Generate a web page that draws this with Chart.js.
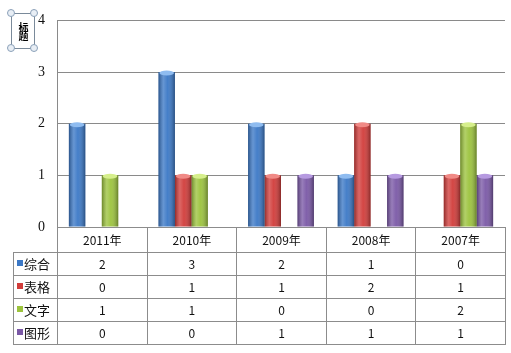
<!DOCTYPE html>
<html>
<head>
<meta charset="utf-8">
<script src="https://cdn.jsdelivr.net/npm/chart.js@4.4.1/dist/chart.umd.min.js"></script>
<style>
  body { margin: 0; background: #fff; }
  #wrap { position: relative; width: 511px; height: 353px; }
  #c { position: absolute; left: 0; top: 0; }
  #tbl { position: absolute; border-collapse: collapse; font-family: "Noto Sans CJK SC", "DejaVu Sans", sans-serif; font-size: 12px; color: #111; table-layout: fixed; }
  #tbl td { border: 1px solid #8c8c8c; text-align: center; padding: 0; height: 22px; line-height: 22px; }
  #tbl tr.head td { height: 24px; }
  #tbl td.corner { border: none; }
  #tbl td.name { text-align: left; padding-left: 3px; font-size: 13px; }
  .key { display: inline-block; width: 6px; height: 6px; margin-right: 1px; vertical-align: 3px; }
  #title { position: absolute; left: 11px; top: 13px; width: 22px; height: 34px; border: 1px solid #7a8a9a; font: 10px "Noto Sans CJK SC", sans-serif; writing-mode: vertical-rl; text-align: center; line-height: 22px; letter-spacing: -1px; font-weight: bold; }
  .h { position: absolute; width: 6px; height: 6px; border: 1px solid #8aa0b8; border-radius: 50%; background: #e8eef5; }
</style>
</head>
<body>
<div id="wrap">
  <canvas id="c" width="511" height="353"></canvas>
  <table id="tbl"></table>
  <div id="title">标题</div>
  <div class="h" style="left:7px;top:9px"></div>
  <div class="h" style="left:30px;top:9px"></div>
  <div class="h" style="left:7px;top:44px"></div>
  <div class="h" style="left:30px;top:44px"></div>
</div>
<script>
// ---------------- DATA ----------------
const categories = ["2011年", "2010年", "2009年", "2008年", "2007年"];
const seriesNames = ["综合", "表格", "文字", "图形"];
const zonghe = [2, 3, 2, 1, 0];
const biaoge = [0, 1, 1, 2, 1];
const wenzi = [1, 1, 0, 0, 2];
const tuxing = [0, 0, 1, 1, 1];
const yTicks = [0, 1, 2, 3, 4];

const seriesValues = [zonghe, biaoge, wenzi, tuxing];
const colors = ["#3b78c6", "#d13c3a", "#9cc33d", "#7a58a6"];
const capColors = ["#8fbcf0", "#f08a86", "#d6ef8c", "#b69ae0"];

// cylinder shading on top of the library's bars
const cylinderShade = {
  id: "cylinderShade",
  afterDatasetsDraw(chart) {
    const ctx = chart.ctx;
    chart.data.datasets.forEach((ds, di) => {
      const meta = chart.getDatasetMeta(di);
      meta.data.forEach((bar, i) => {
        if (!ds.data[i]) return;
        const p = bar.getProps(["x", "y", "base", "width"], true);
        const left = p.x - p.width / 2;
        const g = ctx.createLinearGradient(left, 0, left + p.width, 0);
        g.addColorStop(0, "rgba(0,0,0,0.30)");
        g.addColorStop(0.3, "rgba(255,255,255,0.22)");
        g.addColorStop(0.55, "rgba(255,255,255,0.05)");
        g.addColorStop(1, "rgba(0,0,0,0.35)");
        ctx.save();
        ctx.fillStyle = g;
        ctx.fillRect(left, p.y, p.width, p.base - p.y);
        ctx.beginPath();
        ctx.ellipse(p.x, p.y + 1, p.width / 2 - 1, 2.5, 0, 0, Math.PI * 2);
        ctx.fillStyle = capColors[di];
        ctx.fill();
        ctx.restore();
      });
    });
  }
};

const chart = new Chart(document.getElementById("c"), {
  type: "bar",
  data: {
    labels: categories,
    datasets: seriesNames.map((name, i) => ({
      label: name,
      data: seriesValues[i],
      backgroundColor: colors[i],
      borderWidth: 0,
      categoryPercentage: 0.735,
      barPercentage: 1.0
    }))
  },
  options: {
    responsive: false,
    animation: false,
    layout: { padding: { top: 16, right: 6, bottom: 126, left: 0 } },
    plugins: { legend: { display: false }, tooltip: { enabled: false } },
    scales: {
      x: { display: false },
      y: {
        min: 0,
        max: 4,
        afterFit: s => { s.width = 57; },
        afterBuildTicks: s => { s.ticks = yTicks.map(v => ({ value: v })); },
        ticks: { padding: 12, color: "#111", font: { family: "Liberation Serif", size: 14 } },
        grid: { color: "#8a8a8a", drawTicks: false },
        border: { color: "#8a8a8a" }
      }
    }
  },
  plugins: [cylinderShade]
});

// ---------------- DATA TABLE ----------------
const area = chart.chartArea;
const xs = chart.scales.x;
const colW = xs.getPixelForTick(1) - xs.getPixelForTick(0);
const tbl = document.getElementById("tbl");
const firstW = area.left - 13;
tbl.style.left = "13px";
tbl.style.top = area.bottom + "px";
tbl.style.width = (firstW + colW * categories.length) + "px";

let html = "<colgroup><col style='width:" + firstW + "px'>";
categories.forEach(() => { html += "<col style='width:" + colW + "px'>"; });
html += "</colgroup><tr class='head'><td class='corner'></td>";
categories.forEach(c => { html += "<td>" + c + "</td>"; });
html += "</tr>";
seriesNames.forEach((name, i) => {
  html += "<tr><td class='name'><span class='key' style='background:" + colors[i] + "'></span>" + name + "</td>";
  seriesValues[i].forEach(v => { html += "<td>" + v + "</td>"; });
  html += "</tr>";
});
tbl.innerHTML = html;
</script>
</body>
</html>
